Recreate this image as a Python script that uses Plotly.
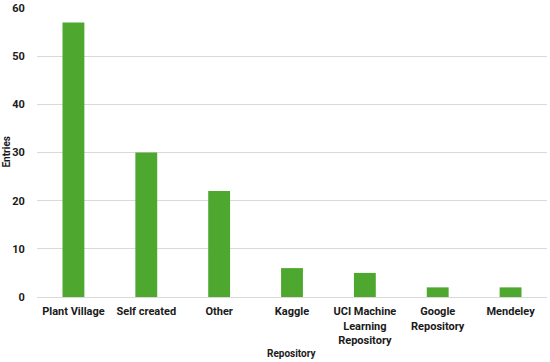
import plotly.graph_objects as go

categories = ["Plant Village", "Self created", "Other", "Kaggle",
              "UCI Machine<br>Learning<br>Repository", "Google<br>Repository", "Mendeley"]
entries = [57, 30, 22, 6, 5, 2, 2]
y_ticks = [0, 10, 20, 30, 40, 50, 60]

fig = go.Figure(go.Bar(x=categories, y=entries, marker_color="#4EA72E",
                       marker_line_width=0, width=0.3))

tickfont = dict(family="Roboto", size=11, color="#1a1a1a", weight="bold")
titlefont = dict(family="Roboto", size=10, color="#1a1a1a", weight="bold")
fig.update_layout(
    width=550, height=362,
    margin=dict(l=37, r=3, t=8, b=65),
    plot_bgcolor="white", paper_bgcolor="white",
    showlegend=False,
    annotations=[
        dict(text="Repository", xref="paper", yref="paper", x=0.5, y=0, yshift=-56,
             showarrow=False, font=titlefont, xanchor="center", yanchor="middle"),
        dict(text="Entries", xref="paper", yref="paper", x=0, xshift=-31, y=0.5,
             showarrow=False, font=titlefont, textangle=-90, xanchor="center", yanchor="middle"),
    ],
)
fig.update_xaxes(
    tickfont=tickfont, showgrid=False, showline=True, linecolor="#d9d9d9",
    linewidth=1, ticks="outside", ticklen=4, tickcolor="rgba(0,0,0,0)", tickangle=0,
    automargin=False,
)
fig.update_yaxes(
    range=[0, 60], tickvals=y_ticks, tickfont=tickfont,
    showgrid=True, gridcolor="#d9d9d9", gridwidth=1, zeroline=False,
    ticks="outside", ticklen=9, tickcolor="rgba(0,0,0,0)",
    automargin=False,
)
fig.write_html("out.html", config={"displayModeBar": False},
               post_script="document.body.style.margin='0';")
